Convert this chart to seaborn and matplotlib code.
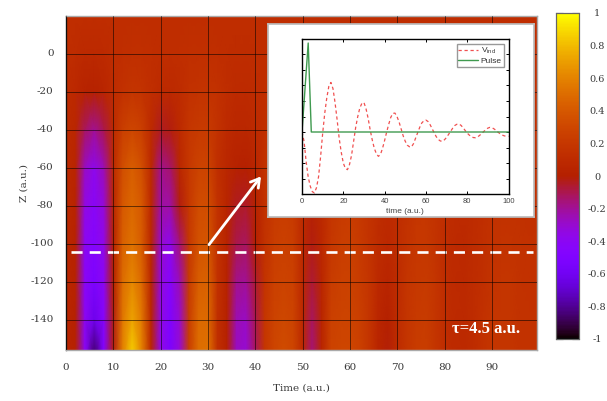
import numpy as np
import pandas as pd
import matplotlib
matplotlib.use("Agg")
import matplotlib.pyplot as plt
import seaborn as sns

# grid of the map: one column per 2 a.u., one row per 20 a.u.
time_knots = list(range(0, 101, 2))
z_knots = [20, 0, -20, -40, -60, -80, -100, -120, -140, -160]

row_p20 = [.12,.12,.12,.12,.12,.12,.12,.12,.12,.12,.12,.12,.12,.12,.12,.12,.12,.12,.12,.12,.12,.12,.12,.12,.12,.12,.12,.12,.12,.12,.12,.12,.12,.12,.12,.12,.12,.12,.12,.12,.12,.12,.12,.12,.12,.12,.12,.12,.12,.12,.12]
row_0 = [.12,.11,.09,.09,.1,.12,.13,.14,.14,.13,.12,.12,.13,.14,.14,.14,.13,.12,.11,.11,.12,.12,.13,.13,.13,.12,.12,.12,.13,.13,.13,.13,.12,.12,.12,.12,.12,.12,.12,.12,.12,.12,.12,.12,.12,.12,.12,.12,.12,.12,.12]
row_m20 = [.11,.08,.03,.02,.05,.11,.15,.18,.17,.13,.1,.09,.11,.15,.17,.17,.15,.12,.1,.1,.11,.13,.15,.15,.15,.13,.11,.12,.14,.15,.15,.15,.14,.12,.12,.13,.14,.15,.15,.14,.13,.12,.12,.13,.13,.14,.14,.14,.13,.13,.13]
row_m40 = [.1,.07,-.12,-.2,-.1,.1,.25,.3,.25,.1,-.04,-.02,.1,.19,.22,.22,.16,.1,.07,.07,.1,.14,.18,.18,.16,.12,.09,.11,.15,.17,.18,.17,.15,.12,.11,.12,.15,.16,.17,.16,.13,.12,.11,.12,.13,.14,.15,.15,.14,.13,.13]
row_m60 = [.09,.05,-.28,-.38,-.25,.09,.35,.43,.35,.09,-.18,-.14,.07,.21,.28,.28,.14,.07,.02,0,.06,.16,.22,.23,.2,.12,.06,.11,.17,.2,.21,.19,.16,.12,.11,.12,.15,.18,.18,.16,.13,.12,.11,.12,.13,.15,.16,.16,.15,.14,.14]
row_m80 = [.09,.04,-.35,-.42,-.32,.05,.4,.48,.4,.08,-.22,-.22,-.02,.21,.33,.34,.16,.05,-.04,-.05,.03,.15,.22,.24,.22,.11,.03,.09,.18,.22,.23,.21,.17,.12,.1,.12,.16,.19,.2,.17,.13,.11,.1,.11,.13,.15,.16,.16,.15,.14,.14]
row_m100 = [.07,.03,-.4,-.46,-.36,.02,.45,.53,.42,.06,-.3,-.38,-.15,.21,.37,.39,.15,.04,-.1,-.12,0,.16,.24,.26,.24,.09,-.02,.08,.2,.24,.25,.22,.17,.11,.08,.12,.17,.2,.21,.17,.12,.1,.09,.11,.14,.16,.17,.17,.16,.15,.15]
row_m120 = [.06,.03,-.42,-.52,-.4,0,.5,.62,.48,.05,-.33,-.45,-.25,.23,.43,.45,.15,.03,-.18,-.2,-.06,.17,.26,.28,.26,.09,-.07,.06,.23,.26,.27,.23,.18,.09,.05,.11,.18,.21,.22,.18,.12,.1,.09,.11,.14,.17,.18,.18,.16,.15,.15]
row_m140 = [.05,.02,-.4,-.62,-.45,-.02,.55,.72,.55,.05,-.35,-.5,-.3,.24,.49,.49,.14,.02,-.25,-.28,-.1,.19,.28,.31,.28,.09,-.12,.05,.26,.28,.28,.25,.18,.06,.01,.11,.18,.22,.23,.18,.12,.1,.09,.11,.15,.18,.18,.18,.16,.16,.16]
row_m160 = [.05,.02,-.42,-.88,-.48,-.02,.6,.88,.6,.05,-.36,-.52,-.32,.25,.51,.53,.14,.02,-.28,-.32,-.12,.19,.29,.33,.29,.09,-.15,.05,.28,.3,.3,.26,.18,.05,-.01,.11,.18,.23,.24,.18,.12,.1,.09,.11,.15,.18,.18,.18,.16,.16,.16]

# inset traces
vind_t = list(range(0, 101))
vind = [0,-.6,-1.9,-2.9,-3.5,-3.85,-3.93,-3.6,-2.9,-1.6,-.1,1.2,2.2,2.95,3.2,2.8,1.9,.8,-.4,-1.3,
        -2.0,-2.35,-2.43,-2.1,-1.5,-.6,.3,1.0,1.55,1.85,1.9,1.5,.9,.15,-.5,-1.05,-1.4,-1.57,-1.45,-1.05,
        -.55,0,.5,.95,1.2,1.22,1.0,.65,.2,-.25,-.6,-.85,-.95,-.97,-.75,-.4,-.05,.3,.58,.72,
        .77,.68,.48,.22,-.05,-.3,-.48,-.58,-.6,-.5,-.35,-.15,.05,.25,.42,.5,.52,.43,.28,.1,
        -.07,-.2,-.3,-.36,-.37,-.32,-.22,-.1,.03,.15,.25,.3,.28,.2,.1,-.02,-.12,-.2,-.25,-.28,-.28]
pulse_t = [0, 3, 4.5, 100]
pulse = [0, 5.74, 0, 0]

x_ticks = list(range(0, 100, 10))
y_ticks = list(range(0, -141, -20))
cbar_ticks = [-1, -.8, -.6, -.4, -.2, 0, .2, .4, .6, .8, 1]
cbar_labels = ["-1", "-0.8", "-0.6", "-0.4", "-0.2", "0", "0.2", "0.4", "0.6", "0.8", "1"]

W, H = 607, 401
SERIF = "DejaVu Serif"
TXT = "#3a3a3a"

def box(l, t, r, b):
    return [l / W, 1 - b / H, (r - l) / W, (b - t) / H]

sns.set_theme(style="white")
plt.rcParams["mathtext.default"] = "regular"
fig = plt.figure(figsize=(W / 100, H / 100), dpi=100, facecolor="white")
ax = fig.add_axes(box(66, 16, 537, 350))
cax = fig.add_axes(box(556, 13, 579, 339))

df = pd.DataFrame([row_p20, row_0, row_m20, row_m40, row_m60, row_m80,
                   row_m100, row_m120, row_m140, row_m160],
                  index=z_knots, columns=time_knots)
sns.heatmap(df, ax=ax, cbar_ax=cax, cmap="gnuplot", vmin=-1, vmax=1, shading="gouraud",
            cbar_kws={"ticks": cbar_ticks})

# heatmap axes run in cell index, so convert with the knot spacing
def tx(t):
    return np.asarray(t) / 2
def zy(z):
    return (20 - np.asarray(z)) / 20

ax.set_xlim(tx(0), tx(99.5))
ax.set_ylim(zy(-156), zy(20))
ax.set_xticks(tx(x_ticks))
ax.set_xticklabels(x_ticks, rotation=0)
ax.set_yticks(zy(y_ticks))
ax.set_yticklabels(y_ticks, rotation=0)
ax.tick_params(length=0, labelsize=7.5, labelcolor=TXT, pad=9)
for lab in ax.get_xticklabels() + ax.get_yticklabels():
    lab.set_family(SERIF)
ax.grid(True, color="black", alpha=0.55, linewidth=0.7)
ax.set_axisbelow(False)
for name, sp in ax.spines.items():
    sp.set_visible(True)
    sp.set_color("#222222" if name == "left" else "#aaaaaa")
    sp.set_linewidth(1)
ax.set_xlabel("Time (a.u.)", family=SERIF, fontsize=7.5, color=TXT, labelpad=9)
ax.set_ylabel("Z (a.u.)", family=SERIF, fontsize=7.5, color=TXT, labelpad=1.5)

# slice marker and arrow to the inset
ax.plot(tx([1, 98.7]), zy([-104.6, -104.6]), color="white", lw=1.9, dashes=(4.2, 2.7))
ax.annotate("", xy=(tx(41.2), zy(-64.5)), xytext=(tx(30.2), zy(-100.5)),
            arrowprops=dict(arrowstyle="->,head_length=0.5,head_width=0.3", color="white", lw=2,
                            shrinkA=0, shrinkB=0))
ax.text(tx(81.5), zy(-145), "τ=4.5 a.u.", color="white", family="Liberation Serif",
        fontsize=12, fontweight="bold", va="center")

# colorbar
cax.tick_params(direction="in", length=5, width=0.8, color="black", left=True, right=True,
                labelsize=7, labelcolor=TXT, pad=13)
cax.set_yticks(cbar_ticks)
cax.set_yticklabels(cbar_labels, family=SERIF, ha="center")
for sp in cax.spines.values():
    sp.set_visible(True)
    sp.set_color("#666666")
    sp.set_linewidth(0.8)

# inset: white card with a small line plot
card = fig.add_axes(box(268, 24, 534, 217), zorder=3)
card.set_xticks([]); card.set_yticks([])
for sp in card.spines.values():
    sp.set_color("#bbbbbb")
ins = fig.add_axes(box(302, 39, 508.5, 194), zorder=4)
sns.lineplot(x=vind_t, y=vind, ax=ins, color="#f05050", lw=0.9, label="V$_{ind}$")
sns.lineplot(x=pulse_t, y=pulse, ax=ins, color="#3f9a4f", lw=1, label="Pulse")
ins.lines[0].set_linestyle((0, (2.6, 2.2)))
ins.set_xlim(0, 100)
ins.set_ylim(-4, 6)
ins.set_xticks([0, 20, 40, 60, 80, 100])
ins.set_yticks(range(-4, 7))
ins.set_yticklabels([])
ins.tick_params(direction="in", length=2.5, width=0.7, color="black", top=True, right=True, bottom=True,
                left=True, labelsize=5.5, labelcolor="#444444", pad=3)
for lab in ins.get_xticklabels():
    lab.set_family("Liberation Sans")
for sp in ins.spines.values():
    sp.set_color("black")
    sp.set_linewidth(1)
ins.set_xlabel("time (a.u.)", family="Liberation Sans", fontsize=6, color="#444444", labelpad=2)
leg = ins.legend(loc="upper right", prop={"family": "Liberation Sans", "size": 6}, fancybox=False,
                 framealpha=1, edgecolor="#999999", borderpad=0.2, labelspacing=0.15, handlelength=2.4,
                 handletextpad=0.3, borderaxespad=0.6, labelcolor="#333333")

fig.savefig("out.png", dpi=100, facecolor="white")
